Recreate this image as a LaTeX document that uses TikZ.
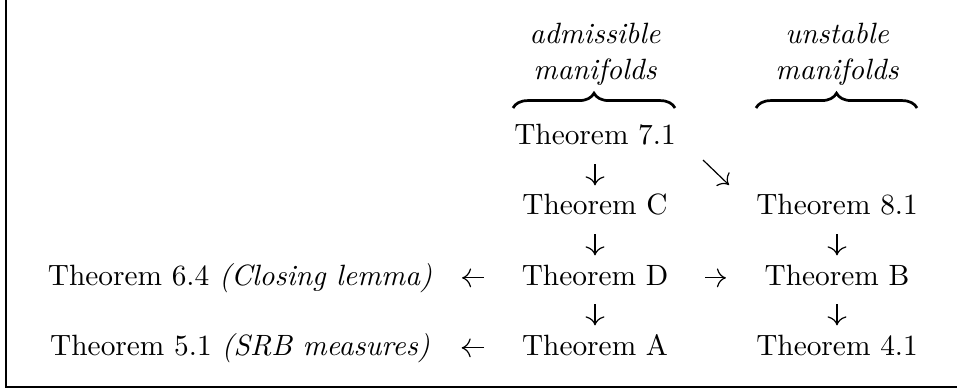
\documentclass[tikz,border=0pt]{standalone}
\usetikzlibrary{arrows.meta,decorations.pathreplacing}
\begin{document}
\begin{tikzpicture}[x=0.3509pt,y=-0.3509pt,
  every node/.style={font=\fontsize{10.3pt}{12.4pt}\selectfont},
  thm/.style={anchor=base, inner sep=0pt, text height=7pt, text depth=2pt},
  lab/.style={anchor=base, inner sep=0pt, font=\fontsize{10.3pt}{12.4pt}\selectfont\itshape},
  arr/.style={-{Computer Modern Rightarrow[scale=1.25]}, line width=0.42pt},
  vdown/.style={arr, shorten <=4.5pt, shorten >=3.2pt},
  brc/.style={decorate, decoration={brace, amplitude=5.2pt}, line width=0.95pt},
  frame/.style={line width=0.5pt}]
\useasboundingbox (0,0) rectangle (957,390);
% frame (left and bottom edges)
\draw[frame] (6,0) -- (6,387) -- (957,387);
% labels
\node[lab] (adm1) at (595,44) {admissible};
\node[lab] (adm2) at (595,80) {manifolds};
\node[lab] (uns1) at (837,44) {unstable};
\node[lab] (uns2) at (837,80) {manifolds};
\coordinate (b1l) at (513,108);
\coordinate (b1r) at (675,108);
\coordinate (b2l) at (756,108);
\coordinate (b2r) at (917,108);
\draw[brc] (b1l) -- (b1r);
\draw[brc] (b2l) -- (b2r);
% theorem nodes
\node[thm] (t71) at (595,145) {Theorem 7.1};
\node[thm] (tC)  at (595,215) {Theorem C};
\node[thm] (t81) at (837,215) {Theorem 8.1};
\node[thm] (tD)  at (595,285) {Theorem D};
\node[thm] (tB)  at (837,285) {Theorem B};
\node[thm] (tA)  at (595,355) {Theorem A};
\node[thm] (t41) at (837,355) {Theorem 4.1};
\node[thm] (t64) at (240,285) {Theorem 6.4 \textit{(Closing lemma)}};
\node[thm] (t51) at (240,355) {Theorem 5.1 \textit{(SRB measures)}};
% vertical arrows
\draw[vdown] (t71) -- (tC);
\draw[vdown] (tC) -- (tD);
\draw[vdown] (tD) -- (tA);
\draw[vdown] (t81) -- (tB);
\draw[vdown] (tB) -- (t41);
% diagonal arrow
\coordinate (dg1) at (703,160);
\coordinate (dg2) at (729,185);
\draw[arr] (dg1) -- (dg2);
% horizontal arrows
\draw[arr, shorten <=12.8pt, shorten >=13.4pt] (tD.east) -- (tB.west);
\draw[arr, shorten <=13.1pt, shorten >=10.3pt] (tD.west) -- (t64.east);
\draw[arr, shorten <=13.1pt, shorten >=11.0pt] (tA.west) -- (t51.east);
\end{tikzpicture}
\end{document}
